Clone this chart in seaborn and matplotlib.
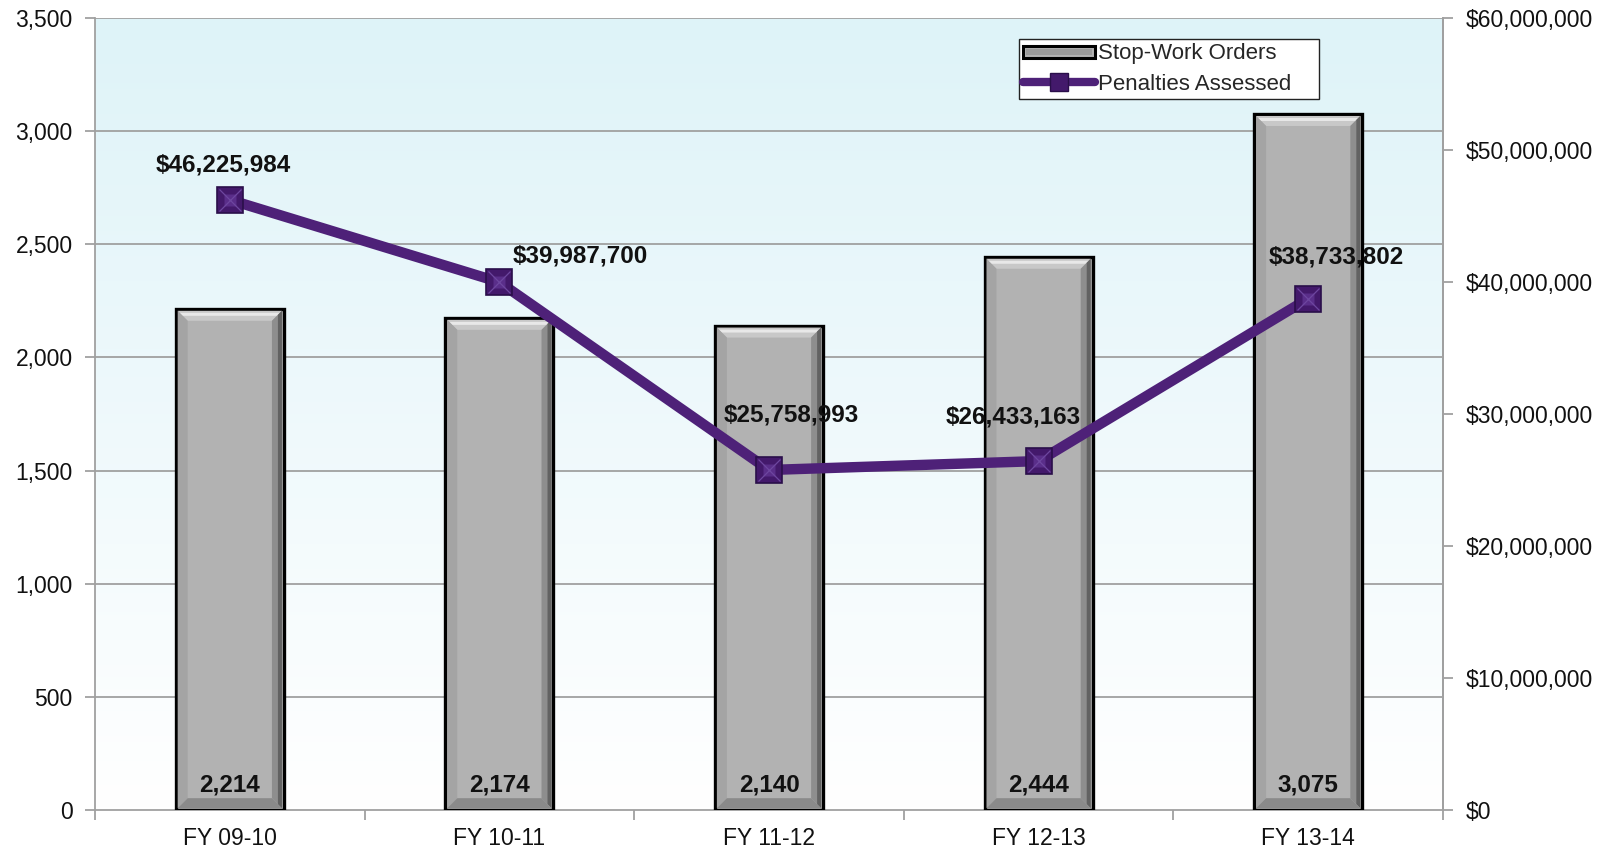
import numpy as np
import pandas as pd
import matplotlib
matplotlib.use("Agg")
import matplotlib.pyplot as plt
from matplotlib.patches import Polygon, Rectangle
from matplotlib.lines import Line2D
from matplotlib.legend_handler import HandlerBase
from matplotlib.ticker import FuncFormatter, MultipleLocator
import seaborn as sns

# ---- data ----
fiscal_years = ["FY 09-10", "FY 10-11", "FY 11-12", "FY 12-13", "FY 13-14"]
stop_work_orders = [2214, 2174, 2140, 2444, 3075]
penalties = [46225984, 39987700, 25758993, 26433163, 38733802]
# label offsets (pixels) for the penalty annotations
penalty_label_offsets = [(-7, 35), (81, 26), (22, 55), (-25, 44), (28, 42)]

sns.set_theme(style="white")
plt.rcParams["font.family"] = ["Liberation Sans", "DejaVu Sans"]

DPI = 100
fig = plt.figure(figsize=(16.17, 8.52), dpi=DPI)
ax = fig.add_axes([95 / 1617, 1 - 810 / 852, (1443 - 95) / 1617, (810 - 18) / 852])

LINE_C = "#4E2178"
BAR_C = "#B2B2B2"
GRID_C = "#A0A0A0"
TICK_FS = 16.5
LABEL_FS = 17.5

df = pd.DataFrame({"year": fiscal_years, "orders": stop_work_orders, "penalty": penalties})

# background gradient: light cyan at top fading to white
grad = np.linspace(0, 1, 256).reshape(-1, 1, 1)
top = np.array([0.871, 0.953, 0.973])
bot = np.array([1.0, 1.0, 1.0])
img = bot + (top - bot) * grad
ax.imshow(img, aspect="auto", extent=[0, 1, 0, 1], transform=ax.transAxes,
          zorder=0, origin="lower")

sns.barplot(data=df, x="year", y="orders", ax=ax, color=BAR_C, width=0.4,
            edgecolor="black", linewidth=2.4, saturation=1, zorder=3)

ax.set_xlim(-0.5, 4.5)
ax.set_ylim(0, 3500)
ax.yaxis.set_major_locator(MultipleLocator(500))
ax.yaxis.set_major_formatter(FuncFormatter(lambda v, p: f"{int(v):,}"))
ax.grid(False)
for yv in np.arange(500, 3501, 500):
    ax.axhline(yv, color=GRID_C, lw=1.3, zorder=1)
ax.set_xlabel("")
ax.set_ylabel("")

for s in ax.spines.values():
    s.set_color(GRID_C)
    s.set_linewidth(1.3)
ax.spines["top"].set_visible(False)

ax.tick_params(axis="y", which="both", left=True, length=7, width=1.3, color=GRID_C,
               labelsize=TICK_FS, labelcolor="#111111", pad=9)
ax.set_xticks(range(5))
ax.set_xticklabels(fiscal_years)
ax.tick_params(axis="x", bottom=False, labelsize=TICK_FS, labelcolor="#111111", pad=6)
# category boundary ticks
ax.set_xticks(np.arange(-0.5, 5, 1), minor=True)
ax.tick_params(axis="x", which="minor", bottom=True, length=7, width=1.3, color=GRID_C)

# bevel shading on the bars
fig.canvas.draw()
inv = ax.transData.inverted()
bev = 10


def poly(pts, color):
    dpts = inv.transform(np.array(pts))
    ax.add_patch(Polygon(dpts, closed=True, facecolor=color, edgecolor="none", zorder=3.5))


for patch in list(ax.patches):
    if not isinstance(patch, Rectangle) or patch.get_height() <= 0:
        continue
    bb = patch.get_window_extent()
    x0, y0, x1, y1 = bb.x0 + 1.8, bb.y0 + 1.8, bb.x1 - 1.8, bb.y1 - 1.8
    # top bevel (light band, fading toward the face)
    poly([(x0, y1), (x1, y1), (x1 - bev, y1 - bev), (x0 + bev, y1 - bev)], "#C8C8C8")
    poly([(x0 + 2, y1 - 2), (x1 - 2, y1 - 2), (x1 - 5, y1 - 5), (x0 + 5, y1 - 5)], "#E8E8E8")
    # right bevel (dark band)
    poly([(x1, y1), (x1, y0), (x1 - bev, y0 + bev), (x1 - bev, y1 - bev)], "#8E8E8E")
    poly([(x1, y1), (x1, y0), (x1 - 4, y0 + 4), (x1 - 4, y1 - 4)], "#626262")
    # left bevel (slightly darker than the face)
    poly([(x0, y1), (x0, y0), (x0 + bev, y0 + bev), (x0 + bev, y1 - bev)], "#A4A4A4")
    # bottom bevel
    poly([(x0, y0), (x1, y0), (x1 - bev, y0 + bev), (x0 + bev, y0 + bev)], "#8A8A8A")

# value labels inside bars
for i, v in enumerate(stop_work_orders):
    ax.annotate(f"{v:,}", xy=(i, 0), xytext=(0, 25), textcoords="offset pixels",
                ha="center", va="center", fontsize=LABEL_FS, fontweight="bold",
                color="#111111", zorder=6)

# secondary axis with penalties
ax2 = ax.twinx()
ax2.set_ylim(0, 60_000_000)
ax2.yaxis.set_major_locator(MultipleLocator(10_000_000))
ax2.yaxis.set_major_formatter(FuncFormatter(lambda v, p: f"${int(v):,}"))
for s in ax2.spines.values():
    s.set_visible(False)
ax2.spines["right"].set_visible(True)
ax2.spines["right"].set_color(GRID_C)
ax2.spines["right"].set_linewidth(1.3)
ax2.tick_params(axis="y", right=True, length=7, width=1.3, color=GRID_C,
                labelsize=TICK_FS, labelcolor="#111111", pad=9)
ax2.grid(False)

sns.lineplot(x=list(range(5)), y=penalties, ax=ax2, color=LINE_C, linewidth=7.5,
             zorder=4, legend=False)
# pyramid style square markers
ax2.plot(range(5), penalties, ls="none", marker="s", markersize=19,
         markerfacecolor="#43196B", markeredgecolor="#2A0F4A", markeredgewidth=1.2, zorder=5)
ax2.plot(range(5), penalties, ls="none", marker="s", markersize=8,
         markerfacecolor="#5A2E8A", markeredgecolor="none", zorder=5.1)
ax2.plot(range(5), penalties, ls="none", marker="x", markersize=16,
         markeredgecolor="#6E47A0", markeredgewidth=0.9, zorder=5.2)

for i, (v, off) in enumerate(zip(penalties, penalty_label_offsets)):
    ax2.annotate(f"${v:,}", xy=(i, v), xytext=off, textcoords="offset pixels",
                 ha="center", va="center", fontsize=LABEL_FS, fontweight="bold",
                 color="#111111", zorder=7)


# legend
class BevelBarHandler(HandlerBase):
    def create_artists(self, legend, orig, xd, yd, w, h, fs, trans):
        r = Rectangle((xd, yd + h * 0.1), w, h * 0.75, facecolor=BAR_C,
                      edgecolor="black", linewidth=2.2, transform=trans)
        r2 = Rectangle((xd + 2, yd + h * 0.3), w - 4, h * 0.35, facecolor="#9A9A9A",
                       edgecolor="none", transform=trans)
        return [r, r2]


bar_handle = Line2D([], [])
line_handle = Line2D([], [], color=LINE_C, lw=6, marker="s", markersize=13,
                     markerfacecolor="#43196B", markeredgecolor="#2A0F4A",
                     solid_capstyle="round")
leg_x0 = (1019 - 95) / 1348
leg_w = (1319 - 1019) / 1348
leg_top = 1 - (39 - 18) / 792
leg = ax2.legend([bar_handle, line_handle], ["Stop-Work Orders", "Penalties Assessed"],
                 handler_map={bar_handle: BevelBarHandler()},
                 loc="upper left", bbox_to_anchor=(leg_x0, leg_top - 0.2, leg_w, 0.2),
                 mode="expand", frameon=True, fancybox=False, fontsize=16,
                 handlelength=3.2, handletextpad=0.15, borderpad=0.2, labelspacing=0.42,
                 borderaxespad=0, edgecolor="#222222", framealpha=1)
leg.get_frame().set_linewidth(1.0)
leg.set_zorder(10)

fig.savefig("out.png", dpi=DPI, facecolor="white")
